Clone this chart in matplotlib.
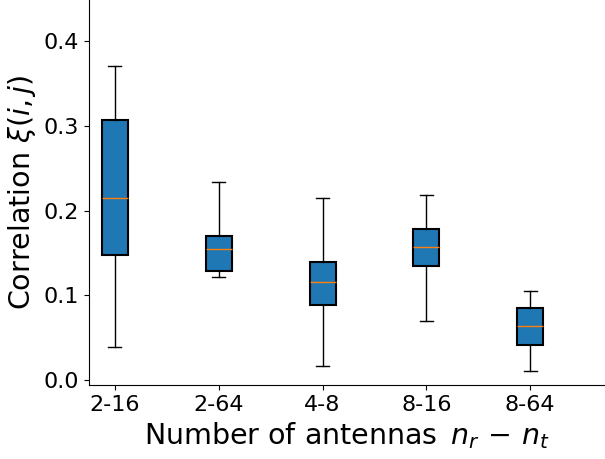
import matplotlib
matplotlib.use('Agg')
import matplotlib.pyplot as plt

labels = ['2-16', '2-64', '4-8', '8-16', '8-64']
whislo = [0.039, 0.121, 0.017, 0.069, 0.010]
q1 = [0.147, 0.128, 0.088, 0.134, 0.041]
med = [0.215, 0.154, 0.116, 0.157, 0.064]
q3 = [0.307, 0.170, 0.139, 0.178, 0.085]
whishi = [0.370, 0.234, 0.215, 0.218, 0.105]

stats = []
for i in range(len(labels)):
    stats.append(dict(label=labels[i], whislo=whislo[i], q1=q1[i], med=med[i],
                      q3=q3[i], whishi=whishi[i], fliers=[]))

fig = plt.figure(figsize=(6.05, 4.59), dpi=100)
ax = fig.add_axes([89/605, 74/459, (606-89)/605, (459-74)/459])
ax.bxp(stats, patch_artist=True, showfliers=False, widths=0.25,
       boxprops=dict(facecolor='#1f77b4', edgecolor='black', linewidth=1.5),
       medianprops=dict(color='#ff7f0e'))

ax.spines['top'].set_visible(False)
ax.spines['right'].set_visible(False)
ax.set_xlim(0.75, 5.73)
ax.set_ylim(-0.006, 0.4485)
ax.set_yticks([0.0, 0.1, 0.2, 0.3, 0.4])
ax.tick_params(labelsize=16)
ax.set_xlabel(r'Number of antennas $\,n_r \,-\, n_t$', fontsize=20.5)
ax.set_ylabel(r'Correlation $\xi(i,j)$', fontsize=20.5)

fig.savefig('out.png', dpi=100)
